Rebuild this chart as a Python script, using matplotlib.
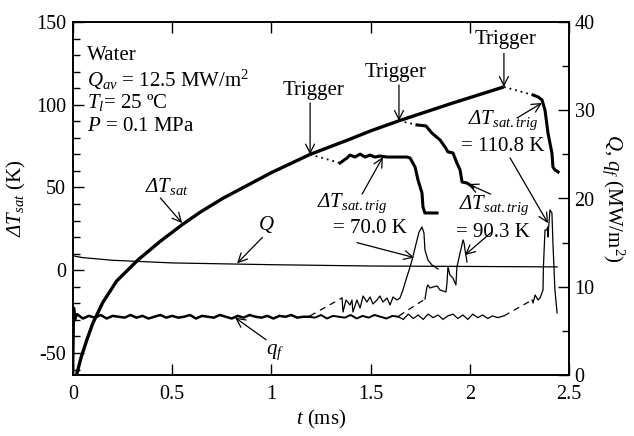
import numpy as np
import matplotlib
matplotlib.use('Agg')
import matplotlib.pyplot as plt
from matplotlib.ticker import MultipleLocator

plt.rcParams.update({
    'font.family': ['Liberation Serif', 'DejaVu Serif'],
    'mathtext.fontset': 'custom',
    'mathtext.rm': 'Liberation Serif',
    'mathtext.it': 'Liberation Serif:italic',
    'mathtext.bf': 'Liberation Serif:bold',
    'mathtext.cal': 'Liberation Serif:italic',
    'axes.unicode_minus': False,
})

# ---------------- data ----------------
# Delta T_sat (K), main heating curve up to the last trigger
dT_t = [0.018, 0.040, 0.070, 0.100, 0.150, 0.220, 0.330, 0.440, 0.550, 0.640,
        0.756, 1.000, 1.195, 1.396, 1.500, 1.643, 1.900, 2.172]
dT_v = [-63.3, -53.0, -42.0, -32.0, -19.5, -6.5, 6.5, 17.5, 27.5, 35.0,
        43.5, 59.0, 70.0, 79.2, 84.2, 90.3, 100.5, 110.8]

# dotted links after each trigger
dot1_t = [1.195, 1.346]; dot1_v = [70.0, 64.8]
dot2_t = [1.643, 1.734]; dot2_v = [90.3, 87.8]
dot3_t = [2.172, 2.319]; dot3_v = [110.8, 105.9]

# Delta T after trigger (thick)
run1_dT_t = [1.346, 1.381, 1.396, 1.421, 1.447, 1.472, 1.497, 1.522, 1.547, 1.583,
             1.633, 1.683, 1.699, 1.724, 1.739, 1.759, 1.764, 1.774, 1.835]
run1_dT_v = [64.8, 67.8, 69.6, 68.4, 70.2, 68.4, 69.6, 68.4, 69.0, 68.4,
             68.4, 68.4, 67.8, 62.4, 54.5, 46.7, 38.2, 34.6, 34.6]
run2_dT_t = [1.734, 1.779, 1.809, 1.850, 1.875, 1.890, 1.915, 1.935, 1.951, 1.961, 1.986, 2.016]
run2_dT_v = [87.8, 87.2, 82.9, 78.7, 74.5, 71.5, 70.9, 64.8, 60.6, 53.3, 52.7, 50.3]
run3_dT_t = [2.319, 2.344, 2.364, 2.379, 2.394, 2.414, 2.419, 2.429, 2.445]
run3_dT_v = [105.9, 104.7, 102.9, 96.8, 82.9, 70.8, 62.4, 60.6, 59.4]

# Q (MW/m2)
Q_t = [0.0, 0.05, 0.2, 0.5, 1.0, 1.5, 2.0, 2.44]
Q_v = [13.5, 13.3, 13.0, 12.7, 12.5, 12.35, 12.3, 12.25]

# q_f (MW/m2): common baseline of all three runs
qf_common_t = [0.0, 0.005, 0.010, 0.02, 0.05, 0.08, 0.11, 0.14, 0.17, 0.20, 0.23, 0.26,
               0.29, 0.32, 0.35, 0.38, 0.41, 0.44, 0.47, 0.50, 0.53, 0.56, 0.59,
               0.62, 0.65, 0.68, 0.71, 0.74, 0.77, 0.80, 0.83, 0.86, 0.89, 0.92,
               0.95, 0.98, 1.01, 1.04, 1.07, 1.10, 1.13, 1.16, 1.19]
qf_common_v = [0.0, 7.6, 6.2, 6.9, 6.4, 6.7, 6.5, 6.8, 6.4, 6.7, 6.6, 6.5,
               6.8, 6.5, 6.7, 6.4, 6.6, 6.8, 6.5, 6.7, 6.5, 6.6, 6.8,
               6.4, 6.7, 6.6, 6.5, 6.8, 6.6, 6.4, 6.7, 6.5, 6.8, 6.6,
               6.5, 6.7, 6.4, 6.7, 6.6, 6.8, 6.5, 6.6, 6.6]
# baseline of runs 2 and 3
qf_run23_t = [1.19, 1.22, 1.25, 1.28, 1.31, 1.34, 1.37, 1.40, 1.43, 1.46, 1.49,
              1.52, 1.55, 1.58, 1.61, 1.64]
qf_run23_v = [6.6, 6.5, 6.8, 6.4, 6.7, 6.6, 6.5, 6.8, 6.4, 6.7, 6.5,
              6.8, 6.6, 6.4, 6.7, 6.6]
# baseline of run 3 only
qf_run3b_t = [1.64, 1.665, 1.690, 1.715, 1.740, 1.765, 1.790, 1.815, 1.840, 1.865,
              1.890, 1.915, 1.940, 1.965, 1.990, 2.015, 2.040, 2.065, 2.090,
              2.115, 2.140, 2.172]
qf_run3b_v = [6.6, 6.3, 6.9, 6.4, 6.8, 6.3, 6.9, 6.5, 6.8, 6.3,
              6.7, 6.9, 6.4, 6.8, 6.3, 6.9, 6.5, 6.8, 6.4,
              6.7, 6.5, 6.7]

# dashed links in q_f after each trigger
dash1_t = [1.195, 1.356]; dash1_v = [6.7, 8.73]
dash2_t = [1.643, 1.774]; dash2_v = [6.7, 8.6]
dash3_t = [2.172, 2.314]; dash3_v = [6.7, 8.5]

# q_f after trigger
run1_qf_t = [1.356, 1.361, 1.376, 1.396, 1.406, 1.411, 1.431, 1.447, 1.462, 1.482,
             1.497, 1.512, 1.532, 1.547, 1.562, 1.583, 1.598, 1.613, 1.633, 1.648,
             1.663, 1.678, 1.694, 1.709, 1.724, 1.734, 1.744, 1.759, 1.769, 1.774,
             1.789, 1.809, 1.840]
run1_qf_v = [8.73, 7.14, 8.50, 7.93, 8.50, 7.14, 8.50, 7.59, 8.95, 8.27,
             8.84, 8.05, 8.50, 8.95, 8.27, 8.73, 7.93, 8.84, 8.50, 8.73,
             9.63, 10.77, 11.90, 13.03, 14.39, 15.30, 16.20, 16.77, 16.09, 14.17,
             13.03, 12.47, 12.01]
run2_qf_t = [1.774, 1.784, 1.789, 1.799, 1.815, 1.835, 1.850, 1.880, 1.885, 1.890,
             1.900, 1.915, 1.930, 1.935, 1.951, 1.966, 1.971, 1.976, 1.986]
run2_qf_v = [8.6, 9.97, 10.2, 9.86, 9.97, 10.09, 9.63, 9.41, 10.43, 12.24,
             11.33, 10.99, 10.20, 12.24, 13.83, 15.30, 14.96, 14.17, 12.80]
run3_qf_t = [2.314, 2.319, 2.329, 2.344, 2.354, 2.369, 2.371, 2.379, 2.389, 2.392,
             2.394, 2.404, 2.414, 2.419, 2.429, 2.440]
run3_qf_v = [8.5, 8.16, 9.07, 8.50, 8.73, 9.63, 12.24, 16.43, 16.43, 16.77,
             15.64, 18.70, 18.36, 14.96, 9.63, 7.03]

x_ticks = [0, 0.5, 1, 1.5, 2, 2.5]
x_ticklabels = ['0', '0.5', '1', '1.5', '2', '2.5']
yl_ticks = [-50, 0, 50, 100, 150]
yr_ticks = [0, 10, 20, 30, 40]

# ---------------- figure ----------------
W, H = 634, 436
fig = plt.figure(figsize=(W / 100, H / 100), dpi=100)
ax = fig.add_axes([73 / W, 1 - 375 / H, 496 / W, 353 / H])
ax2 = ax.twinx()

fs = 15
k = 'black'

# left axis: Delta T
ax.plot(dT_t, dT_v, color=k, lw=2.4, solid_capstyle='butt', zorder=3)
for tt, vv in [(dot1_t, dot1_v), (dot2_t, dot2_v), (dot3_t, dot3_v)]:
    ax.plot(tt, vv, color=k, lw=1.3, linestyle=(0, (1, 2.2)))
for tt, vv in [(run1_dT_t, run1_dT_v), (run2_dT_t, run2_dT_v), (run3_dT_t, run3_dT_v)]:
    ax.plot(tt, vv, color=k, lw=2.2)

ax.set_xlim(0, 2.5)
ax.set_ylim(-63.3, 150)

# right axis: Q and q_f
ax2.plot(Q_t, Q_v, color=k, lw=0.9)
ax2.plot(qf_common_t, qf_common_v, color=k, lw=1.8)
ax2.plot(qf_run23_t, qf_run23_v, color=k, lw=1.4)
ax2.plot(qf_run3b_t, qf_run3b_v, color=k, lw=0.9)
for tt, vv in [(dash1_t, dash1_v), (dash2_t, dash2_v), (dash3_t, dash3_v)]:
    ax2.plot(tt, vv, color=k, lw=0.9, linestyle=(0, (5, 4)))
for tt, vv in [(run1_qf_t, run1_qf_v), (run2_qf_t, run2_qf_v), (run3_qf_t, run3_qf_v)]:
    ax2.plot(tt, vv, color=k, lw=0.9)
ax2.set_ylim(0, 40)

# ticks
ax.set_xticks(x_ticks)
ax.set_xticklabels(x_ticklabels)
ax.set_yticks(yl_ticks)
ax.yaxis.set_minor_locator(MultipleLocator(10))
ax.tick_params(which='both', direction='in', top=True, right=False, labelsize=14.5, width=1)
ax.tick_params(which='major', length=8)
ax.tick_params(which='minor', length=5)
ax.tick_params(axis='y', pad=5)
ax.tick_params(axis='x', pad=7)
ax2.set_yticks(yr_ticks)
ax2.yaxis.set_minor_locator(MultipleLocator(5))
ax2.tick_params(which='both', direction='in', labelsize=14.5, width=1, pad=4)
ax2.tick_params(which='major', length=8)
ax2.tick_params(which='minor', length=5)
for a in (ax, ax2):
    for s in a.spines.values():
        s.set_linewidth(1.2)

DT = r'\mathcal{\Delta}\mathit{T}'

# axis labels
ax.set_xlabel('$t$ (ms)', fontsize=fs)
ax.xaxis.set_label_coords(0.5, -0.093)
ax.set_ylabel('$' + DT + '_{sat}$ (K)', fontsize=fs)
ax.yaxis.set_label_coords(-0.09, 0.5)
ax2.set_ylabel('$Q$, $q_f$ (MW/m$^2$)', fontsize=fs, rotation=270, va='center')
ax2.yaxis.set_label_coords(1.089, 0.5)

# condition text
cond = ['Water', '$Q_{av}$ = 12.5 MW/m$^2$', '$T_l$= 25 ºC', '$P$ = 0.1 MPa']
ys = [0.906, 0.836, 0.771, 0.703]
for s, yy in zip(cond, ys):
    ax.text(0.028, yy, s, transform=ax.transAxes, fontsize=fs, va='center', ha='left')

arr = dict(arrowstyle='->', lw=0.9, color=k, mutation_scale=16, shrinkA=0, shrinkB=0)

# Trigger labels
trig = [(1.195, 70.0, 1.215, 108.9, 101.1),
        (1.643, 90.3, 1.628, 119.2, 111.9),
        (2.172, 110.8, 2.182, 139.6, 131.0)]
for xt, yt, xl, yl, ya in trig:
    ax.text(xl, yl, 'Trigger', fontsize=fs, ha='center', va='center')
    ax.annotate('', xy=(xt, yt), xytext=(xt, ya), arrowprops=arr)

# curve labels
ax.text(0.474, 50.3, '$' + DT + '_{sat}$', fontsize=fs, ha='center', va='center')
ax.annotate('', xy=(0.55, 28.5), xytext=(0.44, 43.7), arrowprops=arr)
ax2.text(0.973, 17.0, '$Q$', fontsize=fs, ha='center', va='center')
ax2.annotate('', xy=(0.827, 12.65), xytext=(0.955, 15.6), arrowprops=arr)
ax2.text(1.02, 2.6, '$q_f$', fontsize=fs, ha='center', va='center')
ax2.annotate('', xy=(0.817, 6.5), xytext=(0.973, 4.0), arrowprops=arr)

# trigger value labels
trig_lbl = '$' + DT + '_{sat.trig}$'
ax.text(1.406, 40.6, trig_lbl, fontsize=fs, ha='center', va='center')
ax.text(1.497, 25.0, '= 70.0 K', fontsize=fs, ha='center', va='center')
ax.annotate('', xy=(1.562, 68.4), xytext=(1.457, 46.0), arrowprops=arr)
ax2.annotate('', xy=(1.72, 13.3), xytext=(1.431, 15.0), textcoords=ax2.transData, arrowprops=arr)

ax.text(2.122, 39.4, trig_lbl, fontsize=fs, ha='center', va='center')
ax.text(2.117, 23.1, '= 90.3 K', fontsize=fs, ha='center', va='center')
ax.annotate('', xy=(1.991, 52.1), xytext=(2.105, 46.0), arrowprops=arr)
ax2.annotate('', xy=(1.976, 13.6), xytext=(2.105, 16.1), arrowprops=arr)

ax.text(2.167, 90.8, trig_lbl, fontsize=fs, ha='center', va='center')
ax.text(2.167, 74.5, '= 110.8 K', fontsize=fs, ha='center', va='center')
ax.annotate('', xy=(2.364, 101.1), xytext=(2.238, 92.0), arrowprops=arr)
ax2.annotate('', xy=(2.394, 17.2), xytext=(2.203, 24.6), arrowprops=arr)

fig.savefig('out.png', dpi=100)
